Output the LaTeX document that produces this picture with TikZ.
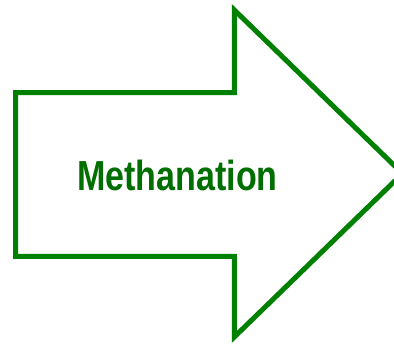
\documentclass[tikz,border=0pt]{standalone}
\usepackage{fontspec}
\setmainfont{Liberation Sans}
\usepackage{xcolor}
\usetikzlibrary{math}
\definecolor{mygreen}{RGB}{0,128,0}
\definecolor{mytextgreen}{RGB}{0,110,0}

\begin{document}
\begin{tikzpicture}[x=1pt,y=1pt]
\tikzmath{
\W=394;
\H=344;
\xl=15.7;
\xh=234.3;
\xt=402.5;
\ytop=344-92.7;
\ybot=344-256.5;
\yhtop=344-10;
\yhbot=344-337;
\ytip=344-173.5;
}
\useasboundingbox (0,0) rectangle (\W,\H);
\begin{scope}
\clip (0,0) rectangle (\W,\H);
\draw[color=mygreen, line width=5, miter limit=20] (\xl,\ytop) -- (\xh,\ytop) -- (\xh,\yhtop) -- (\xt,\ytip) -- (\xh,\yhbot) -- (\xh,\ybot) -- (\xl,\ybot) -- cycle;
\end{scope}
\node[color=mytextgreen, xscale=0.81, font=\fontsize{42}{42}\selectfont\bfseries, anchor=base] (label) at (177.5,344-191) {Methanation};
\end{tikzpicture}
\end{document}
